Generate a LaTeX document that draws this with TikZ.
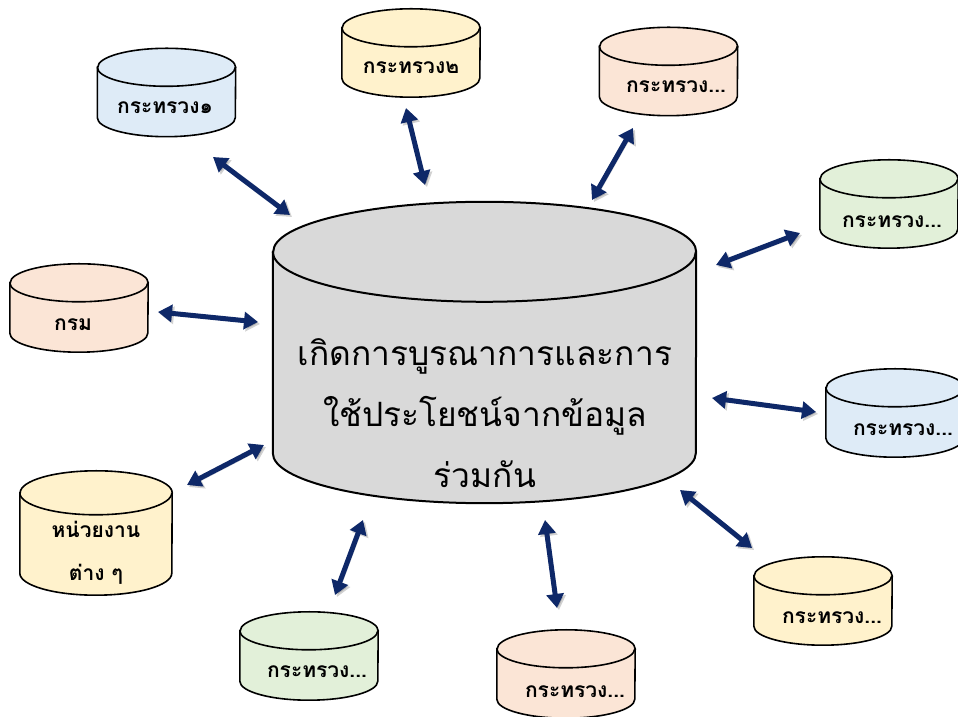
\documentclass[tikz,border=0pt]{standalone}
\usepackage{fontspec}
\newfontfamily\thaifont[Script=Thai]{Loma}
\usepackage{tikz}
\usetikzlibrary{arrows.meta}

\definecolor{cylblue}{HTML}{DEEBF7}
\definecolor{cylyellow}{HTML}{FFF2CC}
\definecolor{cylpeach}{HTML}{FBE5D6}
\definecolor{cylgreen}{HTML}{E2F0D9}
\definecolor{cylgray}{HTML}{D9D9D9}
\definecolor{navy}{RGB}{14,40,104}

% name, x, y, width, height, end radius, style
\newcommand{\dbcyl}[7]{%
  \node[minimum width=#4pt, minimum height=#5pt, inner sep=0pt] (#1) at (#2,#3) {};
  \filldraw[dbline, #7] ([yshift=-#6pt]#1.north west) -- ([yshift=#6pt]#1.south west)
      arc[start angle=180, end angle=360, x radius=#4pt/2, y radius=#6pt]
      -- ([yshift=-#6pt]#1.north east)
      arc[start angle=0, end angle=180, x radius=#4pt/2, y radius=#6pt] -- cycle;
  \draw[dbline, #7, fill=none] ([yshift=-#6pt]#1.north west)
      arc[start angle=180, end angle=360, x radius=#4pt/2, y radius=#6pt];
}

\begin{document}
\begin{tikzpicture}[x=1pt,y=1pt,>={Triangle[length=14pt,width=17pt]}]
    \tikzset{dbline/.style={line width=1.6pt},
             dbtext/.style={font=\thaifont\bfseries\fontsize{21}{25}\selectfont, inner sep=0pt},
             link/.style={<->, line width=5pt, draw=navy,
                          preaction={draw=black, opacity=0.18, transform canvas={shift={(2pt,-2pt)}}}}}
    \useasboundingbox (0,0) rectangle (958,717);

    \dbcyl{hub}{484.5}{364.5}{423}{301}{50}{fill=cylgray, line width=2pt}
    \node[font=\thaifont\fontsize{33.5}{61}\selectfont, align=center, inner sep=0pt] (hubt) at (485,304)
        {เกิดการบูรณาการและการ\\ใช้ประโยชน์จากข้อมูล\\ร่วมกัน};

    \dbcyl{m1}{166.5}{624.5}{138}{88}{19}{fill=cylblue}
    \dbcyl{m2}{411}{664}{138}{88}{19}{fill=cylyellow}
    \dbcyl{m3}{668.5}{645.5}{138}{88}{19}{fill=cylpeach}
    \dbcyl{m4}{889}{513}{138}{88}{19}{fill=cylgreen}
    \dbcyl{m5}{895}{304}{138}{88}{19}{fill=cylblue}
    \dbcyl{m6}{823}{116}{138}{88}{19}{fill=cylyellow}
    \dbcyl{m7}{566}{43}{138}{88}{19}{fill=cylpeach}
    \dbcyl{m8}{309}{61}{138}{88}{19}{fill=cylgreen}
    \dbcyl{m9}{96}{184}{152}{124}{22}{fill=cylyellow}
    \dbcyl{m10}{79}{409}{138}{88}{19}{fill=cylpeach}

    \node[dbtext] (m1t)  at (165,609) {กระทรวง๑};
    \node[dbtext] (m2t)  at (411,649) {กระทรวง๒};
    \node[dbtext] (m3t)  at (676,630) {กระทรวง...};
    \node[dbtext] (m4t)  at (892,495) {กระทรวง...};
    \node[dbtext] (m5t)  at (903,287) {กระทรวง...};
    \node[dbtext] (m6t)  at (832,99)  {กระทรวง...};
    \node[dbtext] (m7t)  at (575,25)  {กระทรวง...};
    \node[dbtext] (m8t)  at (317,45)  {กระทรวง...};
    \node[dbtext, align=center, font=\thaifont\bfseries\fontsize{21}{43}\selectfont] (m9t) at (96,164) {หน่วยงาน\\ต่าง ๆ};
    \node[dbtext] (m10t) at (73,392)  {กรม};

    \coordinate (m1e)  at (213,560); \coordinate (h1)  at (290,502);
    \coordinate (m2e)  at (406,609); \coordinate (h2)  at (425,532);
    \coordinate (m3e)  at (633,589); \coordinate (h3)  at (592,517);
    \coordinate (m4e)  at (800,484); \coordinate (h4)  at (716,452);
    \coordinate (m5e)  at (816,305); \coordinate (h5)  at (712,319);
    \coordinate (m6e)  at (752,169); \coordinate (h6)  at (680,227);
    \coordinate (m7e)  at (557,109); \coordinate (h7)  at (545,197);
    \coordinate (m8e)  at (335,122); \coordinate (h8)  at (363,197);
    \coordinate (m9e)  at (187,232); \coordinate (h9)  at (264,272);
    \coordinate (m10e) at (158,405); \coordinate (h10) at (258,395);

    \foreach \i in {1,...,10}
        \draw[link] (m\i e) -- (h\i);
\end{tikzpicture}
\end{document}
